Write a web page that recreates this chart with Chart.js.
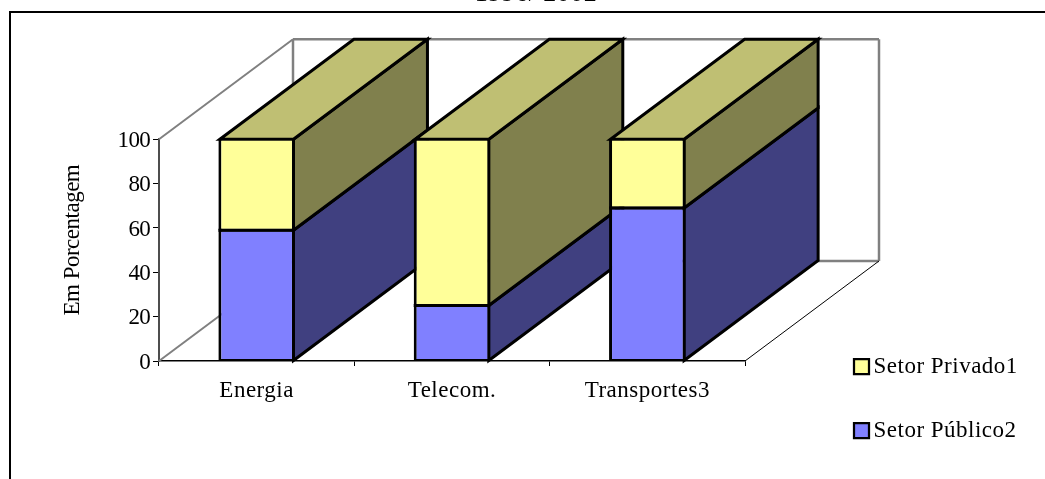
<!DOCTYPE html>
<html lang="pt">
<head>
<meta charset="utf-8">
<title>Setor Público e Setor Privado</title>
<script src="https://cdn.jsdelivr.net/npm/chart.js@4"></script>
<style>
  html, body { margin: 0; padding: 0; background: #fff; overflow: hidden; }
  canvas { display: block; }
</style>
</head>
<body>
<canvas id="chart" width="1045" height="479"></canvas>
<script>
const categories = ['Energia', 'Telecom.', 'Transportes3'];
const setorPublico = [59, 25, 69];
const setorPrivado = [41, 75, 31];
const seriesNames = ['Setor Público2', 'Setor Privado1'];
const chartTitle = '1996/ 2002';
const axisTitle = 'Em Porcentagem';

const FONT = '"Liberation Serif", serif';
const DEPTH_X = 134;
const DEPTH_Y = 100;
const FRONT = { publico: '#8080FF', privado: '#FFFF99' };
const SIDE = { publico: '#404080', privado: '#80804D' };
const TOP_FACE = '#BFBF73';
const EDGE = 3;

function polygon(ctx, pts, fill, stroke, width) {
  ctx.beginPath();
  pts.forEach((p, i) => (i ? ctx.lineTo(p[0], p[1]) : ctx.moveTo(p[0], p[1])));
  ctx.closePath();
  if (fill) { ctx.fillStyle = fill; ctx.fill(); }
  if (stroke) { ctx.strokeStyle = stroke; ctx.lineWidth = width; ctx.stroke(); }
}

function segment(ctx, x1, y1, x2, y2, color, width) {
  ctx.beginPath();
  ctx.moveTo(x1, y1);
  ctx.lineTo(x2, y2);
  ctx.strokeStyle = color;
  ctx.lineWidth = width;
  ctx.stroke();
}

const perspective = {
  id: 'perspective',
  beforeUpdate(chart) {
    chart.ctx.letterSpacing = '0.5px';
  },
  afterLayout(chart) {
    // Outer chart title sits above the frame, cut by the top edge of the page.
    const t = chart.titleBlock;
    const h = t.bottom - t.top, tw = t.right - t.left;
    t.top = -21.6; t.bottom = t.top + h;
    t.left = 536 - tw / 2; t.right = t.left + tw;

    // Legend stays clear of the plot, to the lower right.
    const l = chart.legend;
    const w = l.width, lh = l.height;
    l.left = 820; l.right = l.left + w;
    l.top = 314; l.bottom = l.top + lh;

    // The value axis uses tighter text than the rest of the chart.
    const y = chart.scales.y;
    if (!y._tight) {
      y._tight = true;
      const labels = y.drawLabels, title = y.drawTitle;
      y.drawLabels = function (area) {
        const c = chart.ctx;
        c.save();
        c.letterSpacing = '-0.7px';
        c.translate(0, 1.5);
        labels.call(this, area);
        c.restore();
      };
      y.drawTitle = function () {
        const c = chart.ctx;
        c.save();
        c.letterSpacing = '-0.5px';
        c.translate(0, -10);
        title.call(this);
        c.restore();
      };
    }
  },
  beforeDraw(chart) {
    const c = chart.ctx;
    c.save();
    c.fillStyle = '#000';
    c.fillRect(9, 11, 1036, 2);
    c.fillRect(9, 11, 2, 468);
    c.restore();
  },
  beforeDatasetsDraw(chart) {
    const c = chart.ctx;
    const xs = chart.scales.x, ys = chart.scales.y;
    const L = xs.left, R = xs.right;
    const B = ys.getPixelForValue(0), T = ys.getPixelForValue(100);
    c.save();
    c.lineJoin = 'miter';

    // Walls and floor behind the columns.
    const grey = '#808080';
    segment(c, L, T, L + DEPTH_X, T - DEPTH_Y, grey, 2);
    segment(c, L + DEPTH_X, T - DEPTH_Y, R + DEPTH_X, T - DEPTH_Y, grey, 2.5);
    segment(c, L + DEPTH_X, T - DEPTH_Y, L + DEPTH_X, B - DEPTH_Y, grey, 2.5);
    segment(c, R + DEPTH_X, T - DEPTH_Y, R + DEPTH_X, B - DEPTH_Y, grey, 2.5);
    segment(c, L + DEPTH_X, B - DEPTH_Y, R + DEPTH_X, B - DEPTH_Y, grey, 2.5);
    segment(c, L, B, L + DEPTH_X, B - DEPTH_Y, grey, 2);
    segment(c, R, B, R + DEPTH_X, B - DEPTH_Y, '#000', 1);

    // Side and top faces, left to right so nearer columns overlap farther ones.
    const lower = chart.getDatasetMeta(0).data;
    const upper = chart.getDatasetMeta(1).data;
    categories.forEach((_, i) => {
      const a = lower[i], b = upper[i];
      const right = a.x + a.width / 2 - EDGE / 2;
      const left = a.x - a.width / 2 + EDGE / 2;
      const yBase = a.base, yMid = a.y, yTop = b.y;
      polygon(c, [[right, yBase], [right + DEPTH_X, yBase - DEPTH_Y],
                  [right + DEPTH_X, yMid - DEPTH_Y], [right, yMid]],
              SIDE.publico, '#000', EDGE);
      polygon(c, [[right, yMid], [right + DEPTH_X, yMid - DEPTH_Y],
                  [right + DEPTH_X, yTop - DEPTH_Y], [right, yTop]],
              SIDE.privado, '#000', EDGE);
      polygon(c, [[left, yTop], [left + DEPTH_X, yTop - DEPTH_Y],
                  [right + DEPTH_X, yTop - DEPTH_Y], [right, yTop]],
              TOP_FACE, '#000', EDGE);
    });
    c.restore();
  },
  afterDatasetsDraw(chart) {
    // One solid divider where the two stacked segments of a column meet.
    const c = chart.ctx;
    c.save();
    chart.getDatasetMeta(0).data.forEach(a => {
      segment(c, a.x - a.width / 2, a.y, a.x + a.width / 2, a.y, '#000', EDGE);
    });
    c.restore();
  }
};

new Chart(document.getElementById('chart'), {
  type: 'bar',
  data: {
    labels: categories,
    datasets: [
      {
        label: seriesNames[0],
        data: setorPublico,
        backgroundColor: FRONT.publico,
        borderColor: '#000',
        borderWidth: { top: EDGE / 2, left: EDGE, right: EDGE, bottom: 1.5 },
        borderSkipped: false,
        inflateAmount: 0,
        clip: false
      },
      {
        label: seriesNames[1],
        data: setorPrivado,
        backgroundColor: FRONT.privado,
        borderColor: '#000',
        borderWidth: { top: EDGE / 2, left: EDGE, right: EDGE, bottom: EDGE / 2 },
        borderSkipped: false,
        inflateAmount: 0,
        clip: false
      }
    ]
  },
  options: {
    responsive: false,
    animation: false,
    categoryPercentage: 0.392,
    barPercentage: 1,
    layout: { padding: { left: 0, right: 300, top: 108.1, bottom: 58 } },
    scales: {
      x: {
        stacked: true,
        offset: true,
        afterFit(s) { s.height = 60; },
        border: { color: '#000', width: 1.5 },
        grid: { offset: true, drawOnChartArea: false, tickLength: 5, tickColor: '#000', tickWidth: 1 },
        ticks: {
          color: '#000', padding: 11, maxRotation: 0,
          font: { family: FONT, size: 23 }
        }
      },
      y: {
        stacked: true,
        min: 0,
        max: 100,
        afterFit(s) { s.width = 159; },
        border: { color: '#4d4d4d', width: 2 },
        grid: { drawOnChartArea: false, tickLength: 6, tickColor: '#000', tickWidth: 1 },
        ticks: {
          color: '#000', stepSize: 20, padding: 3,
          font: { family: FONT, size: 23 }
        },
        title: {
          display: true,
          text: axisTitle,
          color: '#000',
          font: { family: FONT, size: 23 },
          padding: { top: 59, bottom: 0 }
        }
      }
    },
    plugins: {
      tooltip: { enabled: false },
      title: {
        display: true,
        text: chartTitle,
        color: '#000',
        padding: 0,
        font: { family: FONT, size: 26, weight: 'normal' }
      },
      legend: {
        position: 'chartArea',
        align: 'start',
        reverse: true,
        labels: {
          color: '#000',
          usePointStyle: true,
          pointStyle: 'rect',
          boxWidth: 1,
          boxHeight: 15,
          padding: 41,
          font: { family: FONT, size: 23 }
        }
      }
    }
  },
  plugins: [perspective]
});
</script>
</body>
</html>
